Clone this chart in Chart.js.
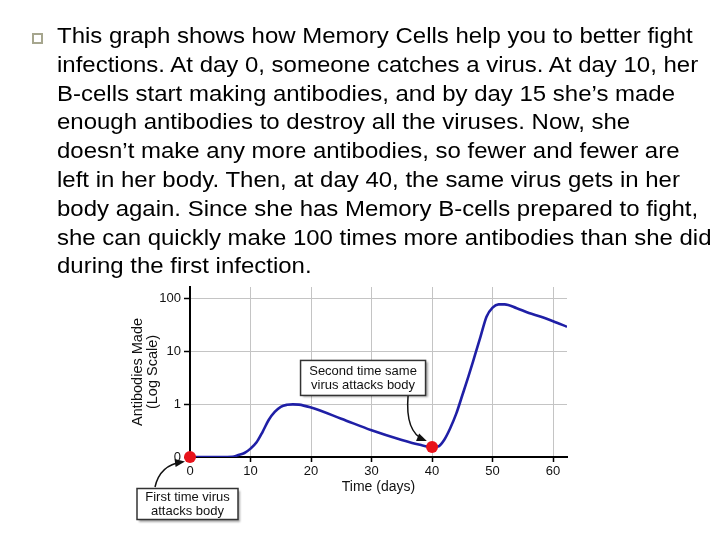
<!DOCTYPE html>
<html>
<head>
<meta charset="utf-8">
<script src="https://cdn.jsdelivr.net/npm/chart.js@4.4.1/dist/chart.umd.min.js"></script>
<style>
  html, body { margin: 0; padding: 0; background: #fff; }
  #wrap { position: relative; width: 720px; height: 540px; overflow: hidden; }
  #chart { position: absolute; left: 0; top: 0; }
  #bullet { position: absolute; left: 32px; top: 33px; width: 7px; height: 7px; border: 2px solid #a6a68e; }
  #para {
    position: absolute; left: 57px; top: 22px;
    font-family: "Liberation Sans", Arial, sans-serif; font-size: 22px; line-height: 28.8px;
    color: #000; white-space: nowrap; transform: scaleX(1.09); transform-origin: 0 0;
  }
</style>
</head>
<body>
<div id="wrap">
  <canvas id="chart" width="720" height="540"></canvas>
  <div id="bullet"></div>
  <div id="para">This graph shows how Memory Cells help you to better fight<br>infections. At day 0, someone catches a virus. At day 10, her<br>B-cells start making antibodies, and by day 15 she’s made<br>enough antibodies to destroy all the viruses. Now, she<br>doesn’t make any more antibodies, so fewer and fewer are<br>left in her body. Then, at day 40, the same virus gets in her<br>body again. Since she has Memory B-cells prepared to fight,<br>she can quickly make 100 times more antibodies than she did<br>during the first infection.</div>
</div>
<script>
// antibody curve (log scale, "0" on the axis = 0.1)
var days = [0, 5, 7, 8, 9, 10, 11, 12, 13, 14, 15, 16, 17, 18, 20, 25, 30, 35, 38, 40, 41, 42, 43, 44, 45, 46, 47, 48, 49, 50, 51, 52, 54, 56, 58, 60, 62.3];
var antibodies = [0.1, 0.1, 0.101, 0.109, 0.119, 0.144, 0.19, 0.30, 0.50, 0.71, 0.89, 0.97, 0.99, 0.98, 0.86, 0.53, 0.32, 0.21, 0.17, 0.155, 0.158, 0.21, 0.35, 0.66, 1.47, 3.3, 7.8, 18.7, 45, 67, 77, 77, 65, 53, 45, 37, 29];
var infectionDays = [0, 40];
var infectionLevels = [0.1, 0.155];
var xTicks = [0, 10, 20, 30, 40, 50, 60];
var yTicks = [0.1, 1, 10, 100];
var yTickLabels = ['0', '1', '10', '100'];
var notes = [['First time virus', 'attacks body'], ['Second time same', 'virus attacks body']];

var curve = days.map(function (d, i) { return { x: d, y: antibodies[i] }; });
var dots = infectionDays.map(function (d, i) { return { x: d, y: infectionLevels[i] }; });

function drawArrow(ctx, x0, y0, cx, cy, x1, y1) {
    ctx.beginPath();
    ctx.moveTo(x0, y0);
    ctx.quadraticCurveTo(cx, cy, x1, y1);
    ctx.stroke();
    var a = Math.atan2(y1 - cy, x1 - cx);
    ctx.beginPath();
    ctx.moveTo(x1 + 3 * Math.cos(a), y1 + 3 * Math.sin(a));
    ctx.lineTo(x1 - 7 * Math.cos(a) + 4 * Math.sin(a), y1 - 7 * Math.sin(a) - 4 * Math.cos(a));
    ctx.lineTo(x1 - 7 * Math.cos(a) - 4 * Math.sin(a), y1 - 7 * Math.sin(a) + 4 * Math.cos(a));
    ctx.closePath();
    ctx.fill();
}

function drawNote(ctx, cx, cy, w, h, lines) {
    ctx.save();
    ctx.shadowColor = 'rgba(0,0,0,0.35)';
    ctx.shadowOffsetX = 2;
    ctx.shadowOffsetY = 2;
    ctx.shadowBlur = 2;
    ctx.fillStyle = '#fff';
    ctx.fillRect(cx - w / 2, cy - h / 2, w, h);
    ctx.restore();
    ctx.strokeStyle = '#333';
    ctx.lineWidth = 1.5;
    ctx.strokeRect(cx - w / 2, cy - h / 2, w, h);
    ctx.fillStyle = '#111';
    ctx.font = '13px "Liberation Sans", Arial, sans-serif';
    ctx.textAlign = 'center';
    ctx.textBaseline = 'middle';
    ctx.fillText(lines[0], cx, cy - 7);
    ctx.fillText(lines[1], cx, cy + 7);
}

var notesPlugin = {
    id: 'notes',
    afterDatasetsDraw: function (chart) {
        var ctx = chart.ctx, xs = chart.scales.x, ys = chart.scales.y;
        var p0 = { x: xs.getPixelForValue(infectionDays[0]), y: ys.getPixelForValue(infectionLevels[0]) };
        var p1 = { x: xs.getPixelForValue(infectionDays[1]), y: ys.getPixelForValue(infectionLevels[1]) };
        ctx.save();
        ctx.strokeStyle = '#111';
        ctx.fillStyle = '#111';
        ctx.lineWidth = 1.5;
        drawArrow(ctx, p0.x - 35, p0.y + 30, p0.x - 30, p0.y + 8, p0.x - 8, p0.y + 5);
        drawArrow(ctx, p1.x - 24, p1.y - 51, p1.x - 27, p1.y - 15, p1.x - 8, p1.y - 7);
        drawNote(ctx, p0.x - 2.5, p0.y + 47, 101, 31, notes[0]);
        drawNote(ctx, p1.x - 69, p1.y - 69, 125, 35, notes[1]);
        ctx.restore();
    }
};

new Chart(document.getElementById('chart').getContext('2d'), {
    type: 'line',
    data: {
        datasets: [{
            data: dots,
            showLine: false,
            pointRadius: 6,
            pointBackgroundColor: '#e8131b',
            pointBorderWidth: 0,
            clip: false
        }, {
            data: curve,
            borderColor: '#1f1fa6',
            borderWidth: 2.6,
            pointRadius: 0,
            cubicInterpolationMode: 'monotone',
            fill: false
        }]
    },
    options: {
        responsive: false,
        animation: false,
        layout: { padding: { left: 120, right: 153, top: 287, bottom: 33 } },
        plugins: { legend: { display: false }, tooltip: { enabled: false } },
        scales: {
            x: {
                type: 'linear',
                min: 0,
                max: 62.3,
                afterBuildTicks: function (s) { s.ticks = xTicks.map(function (v) { return { value: v }; }); },
                afterFit: function (s) { s.height = 50; },
                border: { color: '#000', width: 2 },
                grid: {
                    color: function (c) { return c.tick && c.tick.value === 0 ? 'rgba(0,0,0,0)' : '#c4c4c4'; },
                    tickColor: '#000',
                    tickLength: 5,
                    tickWidth: 1.5
                },
                ticks: { color: '#111', padding: 2, maxRotation: 0, font: { family: '"Liberation Sans", Arial, sans-serif', size: 13 } },
                title: {
                    display: true,
                    text: 'Time (days)',
                    color: '#111',
                    padding: { top: 0, bottom: 11 },
                    font: { family: '"Liberation Sans", Arial, sans-serif', size: 14 }
                }
            },
            y: {
                type: 'logarithmic',
                min: 0.1,
                max: 164,
                afterBuildTicks: function (s) { s.ticks = yTicks.map(function (v) { return { value: v }; }); },
                afterFit: function (s) { s.width = 70; },
                border: { color: '#000', width: 2 },
                grid: {
                    color: function (c) { return c.tick && c.tick.value === 0.1 ? 'rgba(0,0,0,0)' : '#c4c4c4'; },
                    tickColor: '#000',
                    tickLength: 6,
                    tickWidth: 1.5
                },
                ticks: {
                    color: '#111',
                    padding: 3,
                    font: { family: '"Liberation Sans", Arial, sans-serif', size: 13 },
                    callback: function (v) { return yTickLabels[yTicks.indexOf(v)]; }
                },
                title: {
                    display: true,
                    text: ['Antibodies Made', '(Log Scale)'],
                    color: '#111',
                    padding: { top: 10, bottom: 0 },
                    font: { family: '"Liberation Sans", Arial, sans-serif', size: 14.5, lineHeight: 1.05 }
                }
            }
        }
    },
    plugins: [notesPlugin]
});
</script>
</body>
</html>
